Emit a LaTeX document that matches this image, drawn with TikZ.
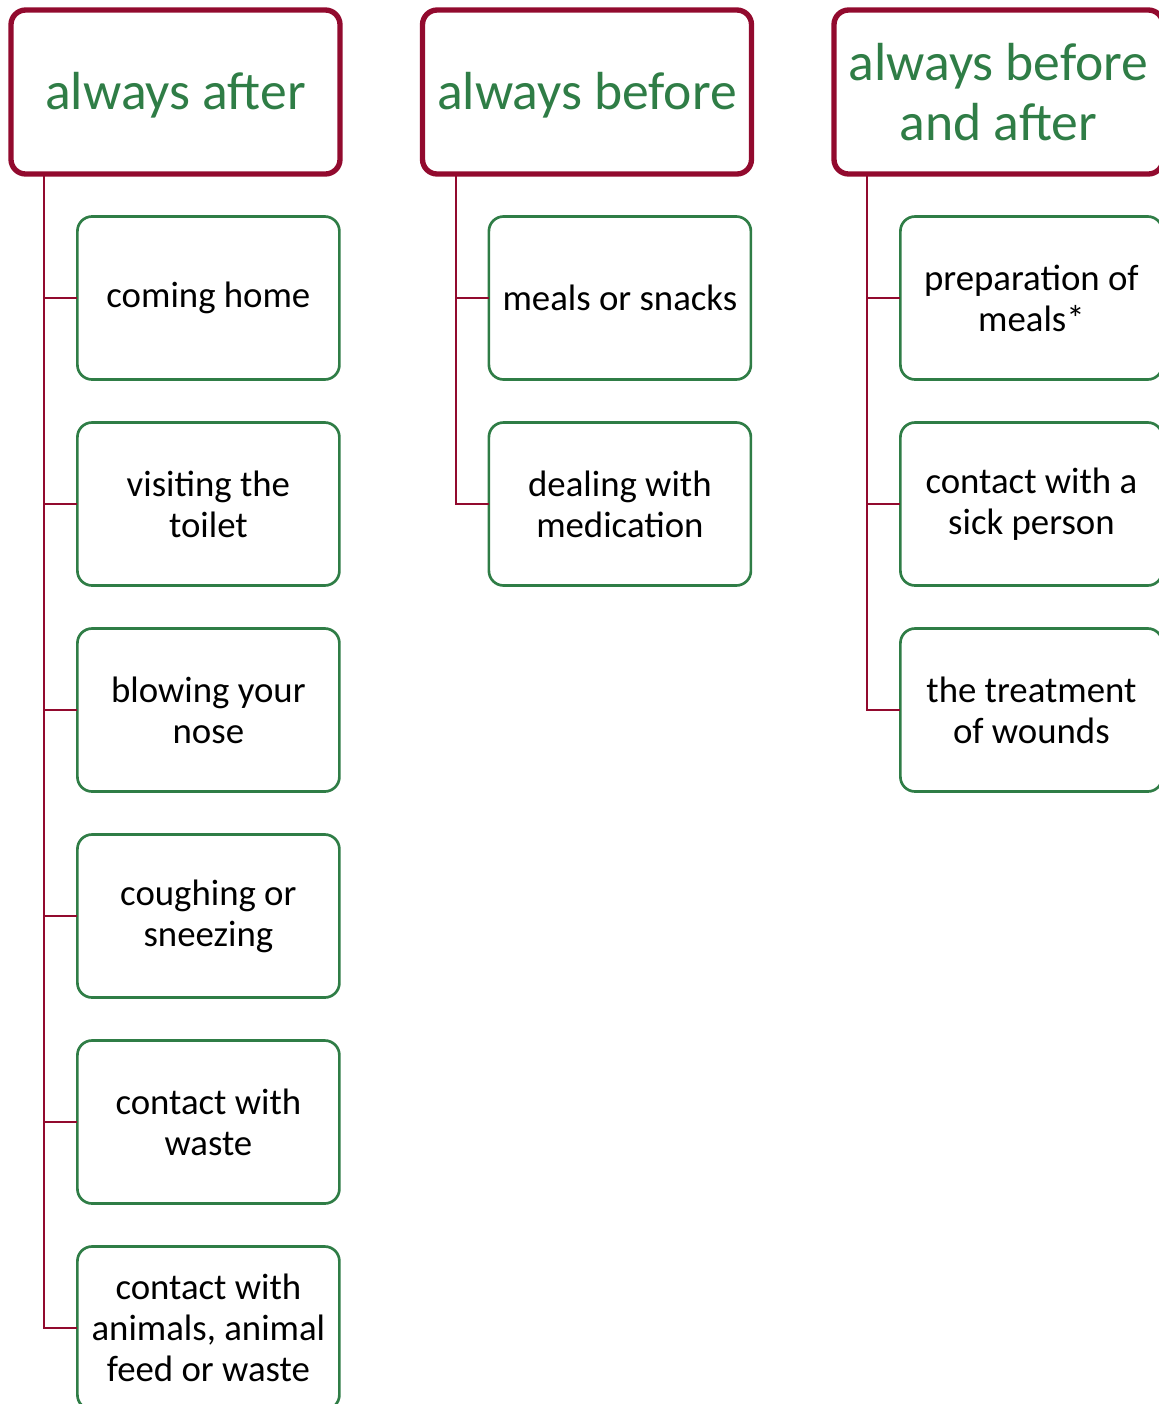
\documentclass[tikz,border=0pt]{standalone}
\usepackage{fontspec}
\setmainfont{Carlito}
\definecolor{myred}{RGB}{146,10,46}
\definecolor{mygreen}{RGB}{47,125,70}
\tikzset{
  hdr/.style={draw=myred, line width=4pt, rounded corners=11pt, minimum width=246.75pt,
    minimum height=123pt, inner sep=0pt, outer sep=0pt, align=center, text=mygreen,
    font=\fontsize{40.2}{45}\selectfont},
  item/.style={draw=mygreen, line width=2pt, rounded corners=11pt, minimum width=196.5pt,
    minimum height=122.25pt, inner sep=0pt, outer sep=0pt, align=center, text=black,
    font=\fontsize{27.6}{30.75}\selectfont},
  conn/.style={draw=myred, line width=1.5pt}
}
\begin{document}
\begin{tikzpicture}[x=0.75pt,y=-0.75pt]
\useasboundingbox (0,0) rectangle (1159,1404);
\clip (0,0) rectangle (1159,1404);
% headers
\node[hdr, text depth=2pt] (h1) at (175.5,92) {always after};
\node[hdr, text depth=2pt] (h2) at (587,92) {always before};
\node[hdr] (h3) at (998.5,92) {always before\\and after};
% column 1
\node[item] (a1) at (208.4,298) {coming home};
\node[item] (a2) at (208.4,504) {visiting the\\toilet};
\node[item] (a3) at (208.4,710) {blowing your\\nose};
\node[item] (a4) at (208.4,916) {coughing or\\sneezing};
\node[item] (a5) at (208.4,1122) {contact with\\waste};
\node[item] (a6) at (208.4,1328) {contact with\\animals, animal\\feed or waste};
% column 2
\node[item] (b1) at (619.9,298) {meals or snacks};
\node[item] (b2) at (619.9,504) {dealing with\\medication};
% column 3
\node[item] (c1) at (1031.4,298) {preparation of\\meals*};
\node[item] (c2) at (1031.4,504) {contact with a\\sick person};
\node[item] (c3) at (1031.4,710) {the treatment\\of wounds};
% connectors
\foreach \c in {a1,a2,a3,a4,a5,a6}
  \draw[conn] (h1.south west) ++(33,0) |- (\c.west);
\foreach \c in {b1,b2}
  \draw[conn] (h2.south west) ++(33,0) |- (\c.west);
\foreach \c in {c1,c2,c3}
  \draw[conn] (h3.south west) ++(33,0) |- (\c.west);
\end{tikzpicture}
\end{document}
